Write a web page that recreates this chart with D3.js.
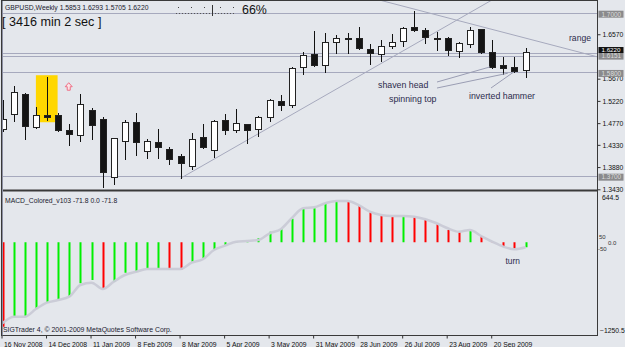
<!DOCTYPE html>
<html>
<head>
<meta charset="utf-8">
<script src="https://cdn.jsdelivr.net/npm/d3@7"></script>
<style>
  body { margin: 0; background: #e3e6eb; }
  text { font-family: "Liberation Sans", Arial, sans-serif; }
</style>
</head>
<body>
<svg id="chart" width="625" height="347"></svg>
<script>
// GBPUSD weekly bars, 16 Nov 2008 .. 11 Oct 2009 (one entry per week)
const open  = [1.4646,1.4950,1.5355,1.4686,1.4939,1.4929,1.4625,1.4524,1.5031,1.4848,1.3673,1.4402,1.4787,1.4200,1.4382,1.4240,
               1.4099,1.3896,1.4484,1.4220,1.4828,1.4625,1.4747,1.4646,1.4889,1.5213,1.5132,1.5902,1.6165,1.5942,1.6408,1.6489,
               1.6489,1.6266,1.6165,1.6327,1.6428,1.6712,1.6651,1.6489,1.6489,1.6226,1.6368,1.6672,1.6206,1.5942,1.5902,1.5853];
const high  = [1.5233,1.5517,1.5375,1.5091,1.5699,1.4970,1.4747,1.5355,1.5071,1.4889,1.4473,1.4828,1.4970,1.4443,1.4646,1.4281,
               1.4139,1.4565,1.4747,1.4828,1.4950,1.5051,1.4757,1.4915,1.5253,1.5334,1.5902,1.6206,1.6631,1.6591,1.6550,1.6591,
               1.6712,1.6368,1.6449,1.6570,1.6712,1.7036,1.6692,1.6611,1.6510,1.6408,1.6712,1.6680,1.6449,1.6104,1.6104,1.6293];
const low   = [1.4605,1.4808,1.4443,1.4666,1.4828,1.4605,1.4321,1.4402,1.4443,1.3471,1.3531,1.4038,1.4119,1.4058,1.4058,1.3937,
               1.3653,1.3835,1.4261,1.4078,1.4544,1.4585,1.4362,1.4504,1.4808,1.5031,1.5091,1.5760,1.5922,1.5800,1.6185,1.6185,
               1.6280,1.5963,1.6023,1.6287,1.6327,1.6640,1.6388,1.6246,1.6145,1.6104,1.6307,1.6200,1.5895,1.5760,1.5800,1.5705];
const close = [1.4848,1.5395,1.4706,1.4929,1.4899,1.4625,1.4544,1.5152,1.4727,1.3774,1.4463,1.4787,1.4382,1.4402,1.4281,1.4038,
               1.3957,1.4443,1.4281,1.4808,1.4625,1.4767,1.4625,1.4889,1.5233,1.5132,1.5881,1.6145,1.5942,1.6408,1.6489,1.6469,
               1.6287,1.6185,1.6327,1.6408,1.6692,1.6651,1.6510,1.6469,1.6246,1.6388,1.6651,1.6206,1.5902,1.5881,1.5821,1.6220];

// MACD_Colored histogram and its grey line
const macd   = [-1203,-1061,-1055,-951,-861,-813,-776,-585,-538,-666,-562,-434,-420,-381,-378,-385,
                -390,-277,-229,-110,-39,-5,2,56,150,184,335,473,483,555,588,578,
                516,426,378,364,374,362,317,256,175,146,160,89,5,-63,-100,-71.8];
const signal = [-1155,-1061,-1061,-951,-861,-823,-776,-609,-576,-666,-562,-467,-420,-381,-381,-381,
                -381,-291,-243,-110,-49,8,18,32,127,184,345,483,498,555,588,588,
                530,435,388,374,374,364,327,270,199,150,175,89,8,-63,-100,-72];
const macdBefore = -1120;   // week before the first bar, only decides its colour

const tickIdx    = [0,4,8,12,16,20,24,28,32,36,40,44];
const tickLabels = ["16 Nov 2008","14 Dec 2008","11 Jan 2009","8 Feb 2009","8 Mar 2009","5 Apr 2009",
                    "3 May 2009","31 May 2009","28 Jun 2009","26 Jul 2009","23 Aug 2009","20 Sep 2009"];
const priceTicks = [1.3430,1.3880,1.4330,1.4770,1.5220,1.5670,1.6570];
const levels      = [1.7000,1.6190,1.6120,1.5800,1.3700];
const levelLabels = [1.7000,1.6151,1.5800,1.3700];
const macdLabels  = [{v: 50, t: '50', dx: 0}, {v: 0, t: '0.0', dx: 9}, {v: -50, t: '-50', dx: -1}];

// trend lines: two anchor points each (week index, price)
const riseLine = [[16,1.3653],[36,1.6234]];
const fallLine = [[34,1.7255],[47,1.6491]];

const svg = d3.select('#chart');
const W = 625, H = 347;
const plotR = 597.5, topB = 190.5, botB = 335.5;

const x  = d3.scaleLinear().domain([0, 47]).range([2.5, 525.6]);
const yP = d3.scaleLinear().domain([1.343, 1.7]).range([189.3, 13]);
const yM = d3.scaleLinear().domain([-1250.5, 644.5]).range([330, 197]);
const px = v => Math.round(v) + 0.5;

svg.append('rect').attr('width', W).attr('height', H).attr('fill', '#e4e7ec');

const defs = svg.append('defs');
defs.append('clipPath').attr('id', 'clipTop').append('rect')
    .attr('x', 2).attr('y', 1).attr('width', plotR - 2).attr('height', topB - 1);
defs.append('clipPath').attr('id', 'clipBot').append('rect')
    .attr('x', 2).attr('y', topB + 2).attr('width', plotR - 2).attr('height', botB - topB - 2);

const upper = svg.append('g').attr('clip-path', 'url(#clipTop)');

// horizontal levels
upper.selectAll('.lvl').data(levels).enter().append('line')
    .attr('x1', 0).attr('x2', plotR)
    .attr('y1', d => px(yP(d))).attr('y2', d => px(yP(d)))
    .attr('stroke', '#a6a9bd').attr('stroke-width', 1);

// trend lines, extended along their slope
function extend(pts, i0, i1) {
    const [a, b] = pts;
    const k = (b[1] - a[1]) / (b[0] - a[0]);
    return [[i0, a[1] + k * (i0 - a[0])], [i1, a[1] + k * (i1 - a[0])]];
}
const tl = d3.line().x(d => x(d[0])).y(d => yP(d[1]));
upper.append('path').attr('d', tl(extend(riseLine, 16, 70)))
    .attr('fill', 'none').attr('stroke', '#a6a9bd').attr('stroke-width', 1);
upper.append('path').attr('d', tl(extend(fallLine, 25, 70)))
    .attr('fill', 'none').attr('stroke', '#a6a9bd').attr('stroke-width', 1);

// yellow highlight behind week 4
upper.append('rect')
    .attr('x', x(3.0)).attr('width', x(4.95) - x(3.0))
    .attr('y', yP(1.5740)).attr('height', yP(1.4788) - yP(1.5740))
    .attr('fill', '#ffd700');

// candles
const idx = d3.range(open.length);
const candle = upper.selectAll('.candle').data(idx).enter().append('g');
candle.append('line')
    .attr('x1', i => px(x(i))).attr('x2', i => px(x(i)))
    .attr('y1', i => Math.round(yP(high[i]))).attr('y2', i => Math.round(yP(low[i])) + 1)
    .attr('stroke', '#111').attr('stroke-width', 1);
candle.append('rect')
    .attr('x', i => Math.round(x(i)) - 2.5).attr('width', 6)
    .attr('y', i => px(yP(Math.max(open[i], close[i]))))
    .attr('height', i => Math.max(1, Math.round(yP(Math.min(open[i], close[i]))) - Math.round(yP(Math.max(open[i], close[i])))))
    .attr('fill', i => close[i] >= open[i] ? '#ffffff' : '#141414')
    .attr('stroke', '#222').attr('stroke-width', 1);

// small hollow up arrow
upper.append('path')
    .attr('transform', 'translate(' + x(5.95) + ',' + yP(1.5507) + ')')
    .attr('d', 'M0,-4L3.5,0L1.5,0L1.5,3.5L-1.5,3.5L-1.5,0L-3.5,0Z')
    .attr('fill', '#fbe3e6').attr('stroke', '#ef6f86').attr('stroke-width', 1);

// candle pattern notes
const notes = [
    {t: 'shaven head',     tx: 378, ty: 88,  lx: 437, ly: 82, i: 43.8, p: 1.5908},
    {t: 'spinning top',    tx: 389, ty: 102, lx: 437, ly: 88, i: 45.4, p: 1.5780},
    {t: 'inverted hammer', tx: 469, ty: 99,  lx: 491, ly: 88, i: 45.9, p: 1.5800}
];
upper.selectAll('.nl').data(notes).enter().append('line')
    .attr('x1', d => d.lx).attr('y1', d => d.ly)
    .attr('x2', d => x(d.i)).attr('y2', d => yP(d.p))
    .attr('stroke', '#9a9db3').attr('stroke-width', 1);
upper.selectAll('.nt').data(notes).enter().append('text')
    .attr('x', d => d.tx).attr('y', d => d.ty)
    .attr('font-size', 8.8).attr('fill', '#2c2c4c').text(d => d.t);
upper.append('text').attr('x', 569).attr('y', 40.5)
    .attr('font-size', 8.6).attr('fill', '#2c2c4c').text('range');

// MACD panel
const lower = svg.append('g').attr('clip-path', 'url(#clipBot)');
lower.selectAll('.bar').data(idx).enter().append('line')
    .attr('x1', i => Math.round(x(i)) + 0.5).attr('x2', i => Math.round(x(i)) + 0.5)
    .attr('y1', yM(0)).attr('y2', i => yM(macd[i]))
    .attr('stroke', i => macd[i] >= (i ? macd[i - 1] : macdBefore) ? '#00f000' : '#ff0000')
    .attr('stroke-width', 2);
lower.append('path').datum(signal)
    .attr('d', d3.line().x((d, i) => x(i)).y(d => yM(d)).curve(d3.curveMonotoneX))
    .attr('fill', 'none').attr('stroke', '#c9cad6').attr('stroke-width', 2.5).attr('opacity', 0.95);
lower.append('text').attr('x', 505.5).attr('y', 263.5)
    .attr('font-size', 8.4).attr('fill', '#2c2c4c').text('turn');

// frame
svg.append('rect').attr('x', 1.5).attr('y', 0.5).attr('width', plotR - 1.5).attr('height', botB - 0.5)
    .attr('fill', 'none').attr('stroke', '#3a3a3a').attr('stroke-width', 1);
svg.append('line').attr('x1', 1.5).attr('x2', plotR).attr('y1', topB).attr('y2', topB)
    .attr('stroke', '#3a3a3a').attr('stroke-width', 2);
svg.append('line').attr('x1', 2.5).attr('x2', 2.5).attr('y1', 1).attr('y2', botB)
    .attr('stroke', '#8d90a4').attr('stroke-width', 1);

// price axis
const ax = svg.append('g').attr('transform', 'translate(' + plotR + ',0)')
    .call(d3.axisRight(yP).tickValues(priceTicks).tickSize(3).tickPadding(2).tickFormat(d3.format('.4f')));
ax.select('.domain').remove();
ax.selectAll('line').attr('stroke', '#333');
ax.selectAll('text').attr('font-size', 6.8).attr('fill', '#111')
    .attr('font-family', '"Liberation Sans", Arial, sans-serif');

// boxed price levels (drawn about a pixel lower, like the terminal does)
const lb = svg.selectAll('.lb').data(levelLabels).enter().append('g')
    .attr('transform', d => 'translate(' + (plotR + 1) + ',' + (yP(d) + 1.2) + ')');
lb.append('rect').attr('x', 0).attr('y', -3.5).attr('width', 25).attr('height', 7).attr('fill', '#8a8a8c');
lb.append('text').attr('x', 3).attr('y', 2.3).attr('font-size', 6.4).attr('fill', '#dcdcdc')
    .text(d => d3.format('.4f')(d));
const cur = svg.append('g').attr('transform', 'translate(' + (plotR + 1) + ',' + (yP(close[47]) - 1.5) + ')');
cur.append('rect').attr('x', 0).attr('y', -3).attr('width', 25).attr('height', 6).attr('fill', '#111');
cur.append('text').attr('x', 3).attr('y', 2.2).attr('font-size', 6.2).attr('fill', '#fff')
    .text(d3.format('.4f')(close[47]));

// MACD axis labels
const macdAxis = [644.5, -1250.5];
svg.selectAll('.ml').data(macdAxis).enter().append('text')
    .attr('x', d => d < 0 ? 600 : 602).attr('y', d => yM(d) + 2.5)
    .attr('font-size', 6.8).attr('fill', '#111').text(d => d3.format('.1f')(d));
svg.selectAll('.mz').data(macdLabels).enter().append('text')
    .attr('x', d => 599 + d.dx).attr('y', d => yM(d.v) + (d.v > 0 ? 0 : d.v < 0 ? 5 : 2.5))
    .attr('font-size', 6).attr('fill', '#333').text(d => d.t);

// time axis
const xa = svg.append('g').attr('transform', 'translate(-1,' + botB + ')')
    .call(d3.axisBottom(x).tickValues(tickIdx).tickSize(3).tickPadding(4).tickFormat((d, i) => tickLabels[i]));
xa.select('.domain').remove();
xa.selectAll('line').attr('stroke', '#333');
xa.selectAll('text').attr('text-anchor', 'start').attr('x', 2).attr('font-size', 6.8).attr('fill', '#111')
    .attr('font-family', '"Liberation Sans", Arial, sans-serif');

// header texts
const f4 = d3.format('.4f');
svg.append('text').attr('x', 5).attr('y', 9.5).attr('font-size', 6.8).attr('fill', '#1a1a2e')
    .text('GBPUSD,Weekly  ' + [open[47], high[47], low[47], close[47]].map(f4).join(' '));
svg.append('text').attr('x', 2).attr('y', 25.5).attr('font-size', 12.6).attr('fill', '#111')
    .text('[ 3416 min 2 sec ]');
svg.append('text').attr('x', 242).attr('y', 13.5).attr('font-size', 12.4).attr('fill', '#111').text('66%');
// elapsed-time ruler
svg.append('line').attr('x1', 176).attr('x2', 236).attr('y1', 13.5).attr('y2', 13.5)
    .attr('stroke', '#555').attr('stroke-dasharray', '1,2');
svg.selectAll('.dot').data([178, 191, 204, 220, 233]).enter().append('rect')
    .attr('x', d => d).attr('y', 7).attr('width', 1).attr('height', 1).attr('fill', '#444');
svg.append('line').attr('x1', 212.5).attr('x2', 212.5).attr('y1', 5).attr('y2', 16)
    .attr('stroke', '#333');

svg.append('text').attr('x', 5).attr('y', 202.5).attr('font-size', 6.8).attr('fill', '#1a1a2e')
    .text('MACD_Colored_v103 ' + macd[47] + ' 0.0 ' + macd[47]);
svg.append('text').attr('x', 3).attr('y', 331.5).attr('font-size', 6.9).attr('fill', '#1a1a2e')
    .text('SIGTrader 4, \u00a9 2001-2009 MetaQuotes Software Corp.');
</script>
</body>
</html>
